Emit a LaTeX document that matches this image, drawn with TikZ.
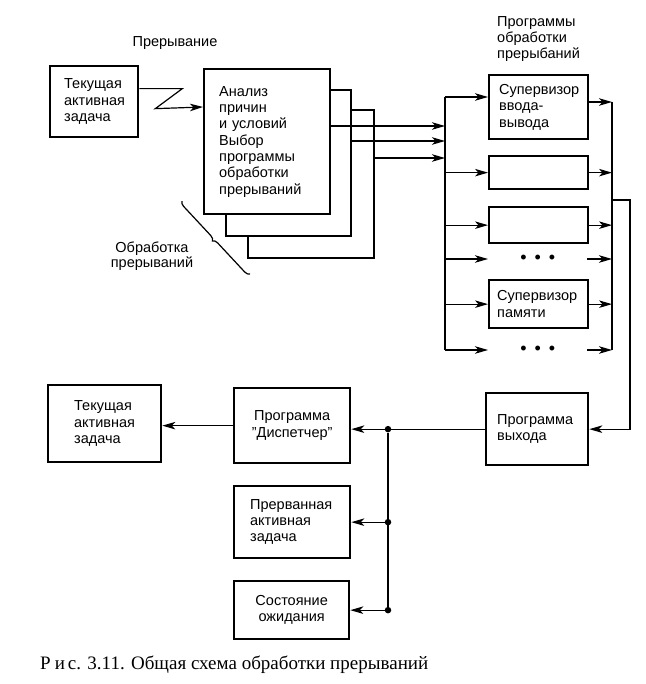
\documentclass[tikz,border=0pt]{standalone}
\usepackage{fontspec}
\setmainfont{Liberation Sans}
\newfontfamily\capfont{Liberation Serif}
\usetikzlibrary{arrows.meta, calc, decorations.pathreplacing}
\tikzset{
    box/.style={rectangle, draw=black, line width=2.3pt, fill=white, align=left, anchor=north west, inner xsep=2pt, inner ysep=0pt, font=\fontsize{14.5}{16.3}\selectfont},
    arr/.style={-{Stealth[length=13pt, width=7.5pt, inset=3.5pt]}, line width=1.2pt},
    wire/.style={line width=1.2pt},
    lbl/.style={inner sep=0pt, align=left, font=\fontsize{14.5}{16}\selectfont},
    dotrow/.style={minimum width=99pt, minimum height=14pt, inner sep=0pt, anchor=west, font=\fontsize{18}{18}\selectfont},
    junc/.style={circle, fill=black, inner sep=0pt, minimum size=6.5pt}
}

\begin{document}
\begin{tikzpicture}[x=1pt, y=-1pt]
        \useasboundingbox[fill=white] (0,0) rectangle (645,684);
        \node[box, minimum width=88pt, minimum height=71pt, text width=60pt] (cur) at (49,65) {Текущая\\активная\\задача};
        \node[box, minimum width=126pt, minimum height=148pt] (anal3) at (247,109) {};
        \node[box, minimum width=125pt, minimum height=146pt] (anal2) at (225,89) {};
        \node[box, minimum width=126pt, minimum height=145pt, text width=96pt] (anal) at (203,68) {Анализ\\причин\\и условий\\Выбор\\программы\\обработки\\прерываний};
        \node[lbl] (intlbl) at (175,43) {Прерывание};
        \node[lbl, align=center, font=\fontsize{14.5}{15}\selectfont] (proclbl) at (152,256) {Обработка\\прерываний};
        \node[lbl, anchor=west] (hdr) at (497,39) {Программы\\обработки\\прерыбаний};
        \node[box, minimum width=99pt, minimum height=64pt, text width=79pt] (io) at (488,74) {Супервизор\\ввода-\\вывода};
        \node[box, minimum width=99pt, minimum height=33pt] (e1) at (488,155) {};
        \node[box, minimum width=99pt, minimum height=36pt] (e2) at (488,206) {};
        \node[dotrow] (dots1) at (488,259) {\textbullet\hspace{8pt}\textbullet\hspace{8pt}\textbullet};
        \node[box, minimum width=99pt, minimum height=48pt, text width=83pt] (mem) at (488,279) {Супервизор\\памяти};
        \node[dotrow] (dots2) at (488,350) {\textbullet\hspace{8pt}\textbullet\hspace{8pt}\textbullet};
        \node[box, minimum width=102pt, minimum height=72pt, text width=80pt] (exit) at (485,392) {Программа\\выхода};
        \node[box, minimum width=113pt, minimum height=77pt, text width=61pt] (cur2) at (47,384) {Текущая\\активная\\задача};
        \node[box, minimum width=116pt, minimum height=75pt, text width=100pt, align=center] (disp) at (233,387) {Программа\\''Диспетчер''};
        \node[box, minimum width=116pt, minimum height=72pt, text width=84pt] (intr) at (233,485) {Прерванная\\активная\\задача};
        \node[box, minimum width=115pt, minimum height=58pt, text width=100pt, align=center] (wait) at (233,580) {Состояние\\ожидания};
        \node[anchor=west, inner sep=0pt, font=\capfont\fontsize{19}{21}\selectfont] (cap) at (40,665) {Р\hspace{4pt}и\hspace{3pt}с. 3.11. Общая схема обработки прерываний};
        \coordinate (busT) at (445,97);
        \coordinate (busB) at (445,350);
        \coordinate (colT) at (612,102);
        \coordinate (colB) at (612,350);
        \coordinate (ret) at (630,200);
        \coordinate (br1) at (250,274);
        \coordinate (br2) at (182,201);
        \draw[arr] ([yshift=13pt]cur.east) -- ++(43,0) -- ++(-27,20) -- (anal.west |- 0,107);
        \draw[wire, decorate, decoration={brace, amplitude=5pt}] (br1) -- (br2);
        \draw[arr] ($(anal.north east)+(0,58)$) coordinate (o1) -- (o1 -| busT);
        \draw[arr] ($(anal2.north east)+(0,52)$) coordinate (o2) -- (o2 -| busT);
        \draw[arr] ($(anal3.north east)+(0,49)$) coordinate (o3) -- (o3 -| busT);
        \draw[wire] (busT) -- (busB);
        \draw[arr] (busT) -- (busT -| io.west);
        \draw[arr] (busT |- e1.west) -- (e1.west);
        \draw[arr] (busT |- e2.west) -- (e2.west);
        \draw[arr] (busT |- dots1.west) -- (dots1.west);
        \draw[arr] (busT |- mem.west) -- (mem.west);
        \draw[arr] (busB) -- (dots2.west);
        \draw[arr] ($(io.north east)+(0,28)$) coordinate (q1) -- (q1 -| colT);
        \draw[arr] (e1.east) -- (e1.east -| colT);
        \draw[arr] (e2.east) -- (e2.east -| colT);
        \draw[arr] (dots1.east) -- (dots1.east -| colT);
        \draw[arr] (mem.east) -- (mem.east -| colT);
        \draw[arr] (dots2.east) -- (colB);
        \draw[wire] (colT) -- (colB);
        \draw[arr] (colT |- ret) -- (ret) |- (exit.east);
        \draw[arr] (exit.west) -- (exit.west -| disp.east);
        \draw[arr] (disp.west) -- (disp.west -| cur2.east);
        \node[junc] (j1) at (388,0 |- exit.west) {};
        \node[junc] (j2) at (388,0 |- intr.east) {};
        \node[junc] (j3) at (388,0 |- wait.east) {};
        \draw[wire] (j1) -- (j3);
        \draw[arr] (j2) -- (intr.east);
        \draw[arr] (j3) -- (wait.east);
    \end{tikzpicture}
\end{document}
